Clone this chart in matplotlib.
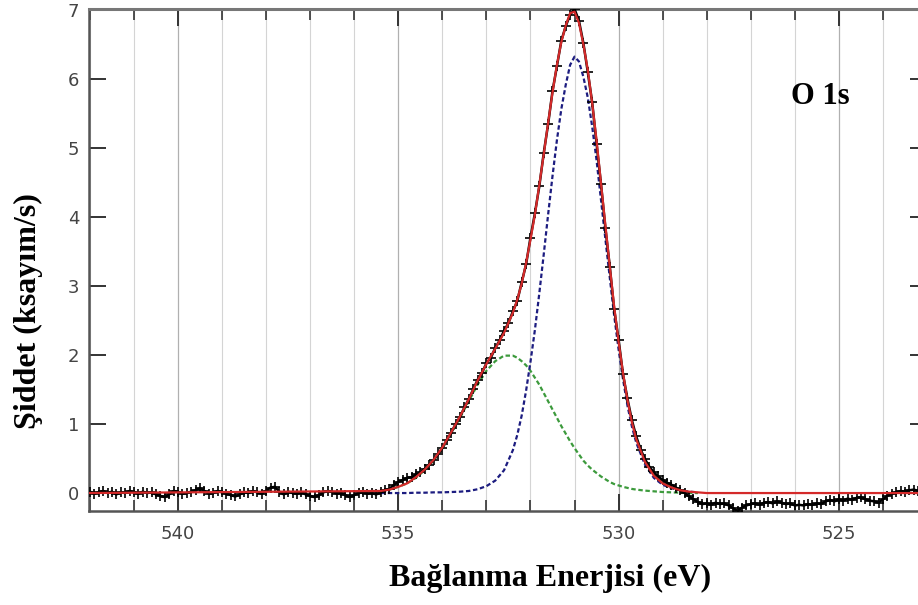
import numpy as np
import matplotlib

matplotlib.use("Agg")
import matplotlib.pyplot as plt
from matplotlib.ticker import MultipleLocator

# measured O 1s spectrum, 0.1 eV steps from 542.1 down to 522.9 eV (ksayim/s)
counts = [
    0.00, 0.02, -0.01, 0.01, 0.03, 0.00, 0.02, -0.02, 0.01, 0.00,
    0.03, 0.01, -0.01, 0.02, 0.00, 0.01, -0.02, -0.04, -0.06, -0.02,
    0.03, 0.02, -0.01, 0.00, 0.02, 0.04, 0.07, 0.03, -0.01, 0.00,
    0.03, 0.01, -0.01, -0.03, -0.05, -0.02, 0.01, 0.00, 0.03, 0.01,
    -0.01, 0.03, 0.08, 0.09, 0.02, -0.02, 0.02, 0.00, -0.01, 0.01,
    -0.02, -0.04, -0.06, -0.03, 0.01, 0.03, 0.02, -0.01, 0.00, -0.03,
    -0.06, -0.03, 0.00, 0.01, -0.01, 0.00, -0.02, 0.01, 0.04,
    # 535.2 .. 528.2
    0.06, 0.12, 0.16, 0.19, 0.22, 0.23, 0.27, 0.30, 0.35, 0.41,
    0.48, 0.56, 0.65, 0.77, 0.87, 1.00, 1.10, 1.24, 1.36, 1.50,
    1.64, 1.74, 1.88, 1.96, 2.10, 2.21, 2.35, 2.46, 2.63, 2.78,
    3.05, 3.31, 3.70, 4.05, 4.44, 4.92, 5.34, 5.82, 6.18, 6.55,
    6.76, 6.93, 7.01, 6.84, 6.52, 6.10, 5.66, 5.06, 4.48, 3.84,
    3.28, 2.66, 2.22, 1.72, 1.37, 1.06, 0.82, 0.63, 0.49, 0.38,
    0.30, 0.24, 0.19, 0.15, 0.12, 0.08, 0.04, 0.00, -0.05, -0.09,
    -0.13,
    # 528.1 .. 522.9
    -0.16, -0.15, -0.17, -0.14, -0.16, -0.15, -0.18, -0.22, -0.26, -0.21,
    -0.18, -0.16, -0.15, -0.17, -0.14, -0.13, -0.15, -0.12, -0.14, -0.16,
    -0.15, -0.18, -0.17, -0.18, -0.16, -0.17, -0.15, -0.16, -0.12, -0.10,
    -0.12, -0.09, -0.11, -0.08, -0.10, -0.07, -0.06, -0.09, -0.11, -0.12,
    -0.14, -0.09, -0.04, -0.01, 0.01, 0.03, 0.02, 0.04, 0.05, 0.03,
    0.04, 0.02, 0.03,
]
energy = np.linspace(542.1, 522.9, len(counts))

# fitted components
fit_energy = [
    535.4, 535.2, 535.0, 534.8, 534.6, 534.4, 534.2, 534.0, 533.8, 533.6,
    533.4, 533.2, 533.0, 532.8, 532.6, 532.4, 532.3, 532.2, 532.1, 532.0,
    531.9, 531.8, 531.7, 531.6, 531.5, 531.4, 531.3, 531.2, 531.1, 531.0,
    530.9, 530.8, 530.7, 530.6, 530.5, 530.4, 530.3, 530.2, 530.1, 530.0,
    529.9, 529.8, 529.7, 529.6, 529.4, 529.2, 529.0, 528.8, 528.6, 528.4,
    528.2,
]
peak_530 = [
    0.00, 0.00, 0.00, 0.00, 0.005, 0.005, 0.01, 0.01, 0.015, 0.02,
    0.03, 0.055, 0.10, 0.18, 0.33, 0.62, 0.84, 1.12, 1.48, 1.90,
    2.36, 2.89, 3.45, 4.03, 4.59, 5.11, 5.56, 5.91, 6.20, 6.32,
    6.25, 6.03, 5.73, 5.31, 4.82, 4.25, 3.68, 3.12, 2.57, 2.08,
    1.65, 1.27, 0.97, 0.73, 0.41, 0.22, 0.12, 0.07, 0.04, 0.02,
    0.01,
]
peak_532 = [
    0.03, 0.05, 0.09, 0.14, 0.22, 0.33, 0.47, 0.65, 0.86, 1.09,
    1.33, 1.57, 1.77, 1.91, 1.99, 1.99, 1.96, 1.91, 1.85, 1.77,
    1.67, 1.57, 1.45, 1.33, 1.21, 1.09, 0.97, 0.86, 0.75, 0.65,
    0.56, 0.47, 0.40, 0.34, 0.29, 0.24, 0.20, 0.16, 0.13, 0.11,
    0.09, 0.075, 0.06, 0.05, 0.035, 0.025, 0.015, 0.01, 0.005, 0.00,
    0.00,
]
envelope_energy = [542.1] + fit_energy + [528.0, 522.9]
envelope = [0.00] + [
    0.03, 0.05, 0.09, 0.14, 0.23, 0.34, 0.48, 0.66, 0.88, 1.11,
    1.36, 1.63, 1.87, 2.09, 2.32, 2.61, 2.80, 3.03, 3.33, 3.67,
    4.03, 4.46, 4.90, 5.36, 5.80, 6.20, 6.53, 6.77, 6.95, 6.97,
    6.81, 6.50, 6.13, 5.65, 5.11, 4.49, 3.88, 3.28, 2.70, 2.19,
    1.74, 1.35, 1.03, 0.78, 0.45, 0.25, 0.14, 0.08, 0.04, 0.02,
    0.01,
] + [0.00, 0.00]

W, H = 918, 605
fig = plt.figure(figsize=(W / 100, H / 100), dpi=100)
ax = fig.add_axes([89 / W, 1 - 511 / H, (927 - 89) / W, (511 - 9) / H])

ax.plot(fit_energy, peak_532, color="#3c9a3c", lw=1.6, ls=(0, (2.0, 1.2)), zorder=2)
ax.plot(fit_energy, peak_530, color="#1c1c80", lw=1.6, ls=(0, (2.0, 1.2)), zorder=2)
ax.plot(energy, counts, color="black", lw=1.8, marker="+", ms=7, mew=1.2, zorder=3)
ax.plot(envelope_energy, envelope, color="#d42a2a", lw=1.6, zorder=4)

ax.set_xlim(542.02, 523.0)
ax.set_ylim(-0.26, 7.01)

ax.xaxis.set_major_locator(MultipleLocator(5))
ax.xaxis.set_minor_locator(MultipleLocator(1))
ax.yaxis.set_major_locator(MultipleLocator(1))
ax.grid(which="minor", axis="x", color="#d4d4d4", lw=0.8)
ax.grid(which="major", axis="x", color="#b0b0b0", lw=0.9)
ax.grid(False, axis="y")

ax.tick_params(axis="x", which="major", direction="in", length=12, width=1.4,
               top=True, bottom=True, color="#333333", pad=10,
               labelsize=13, labelcolor="#444444")
ax.tick_params(axis="x", which="minor", direction="in", length=8, width=1.2,
               top=True, bottom=True, color="#333333")
ax.tick_params(axis="y", which="major", direction="in", length=12, width=1.4,
               left=True, right=True, color="#333333", pad=7,
               labelsize=13, labelcolor="#444444")

for side in ("left", "bottom"):
    ax.spines[side].set_color("#555555")
    ax.spines[side].set_linewidth(1.8)
ax.spines["top"].set_color("#777777")
ax.spines["top"].set_linewidth(2.2)
ax.spines["right"].set_color("#555555")

serif = ["Liberation Serif", "DejaVu Serif"]
ax.text(820 / W, 1 - 96 / H, "O 1s", transform=fig.transFigure, ha="center",
        va="center", fontsize=22, fontweight="bold", family=serif)
fig.text(550 / W, 1 - 578 / H, "Bağlanma Enerjisi (eV)", ha="center",
         va="center", fontsize=23, fontweight="bold", family=serif)
fig.text(28 / W, 1 - 311 / H, "Şiddet (ksayım/s)", ha="center", va="center",
         rotation=90, fontsize=23, fontweight="bold", family=serif)

fig.savefig("out.png", dpi=100)
